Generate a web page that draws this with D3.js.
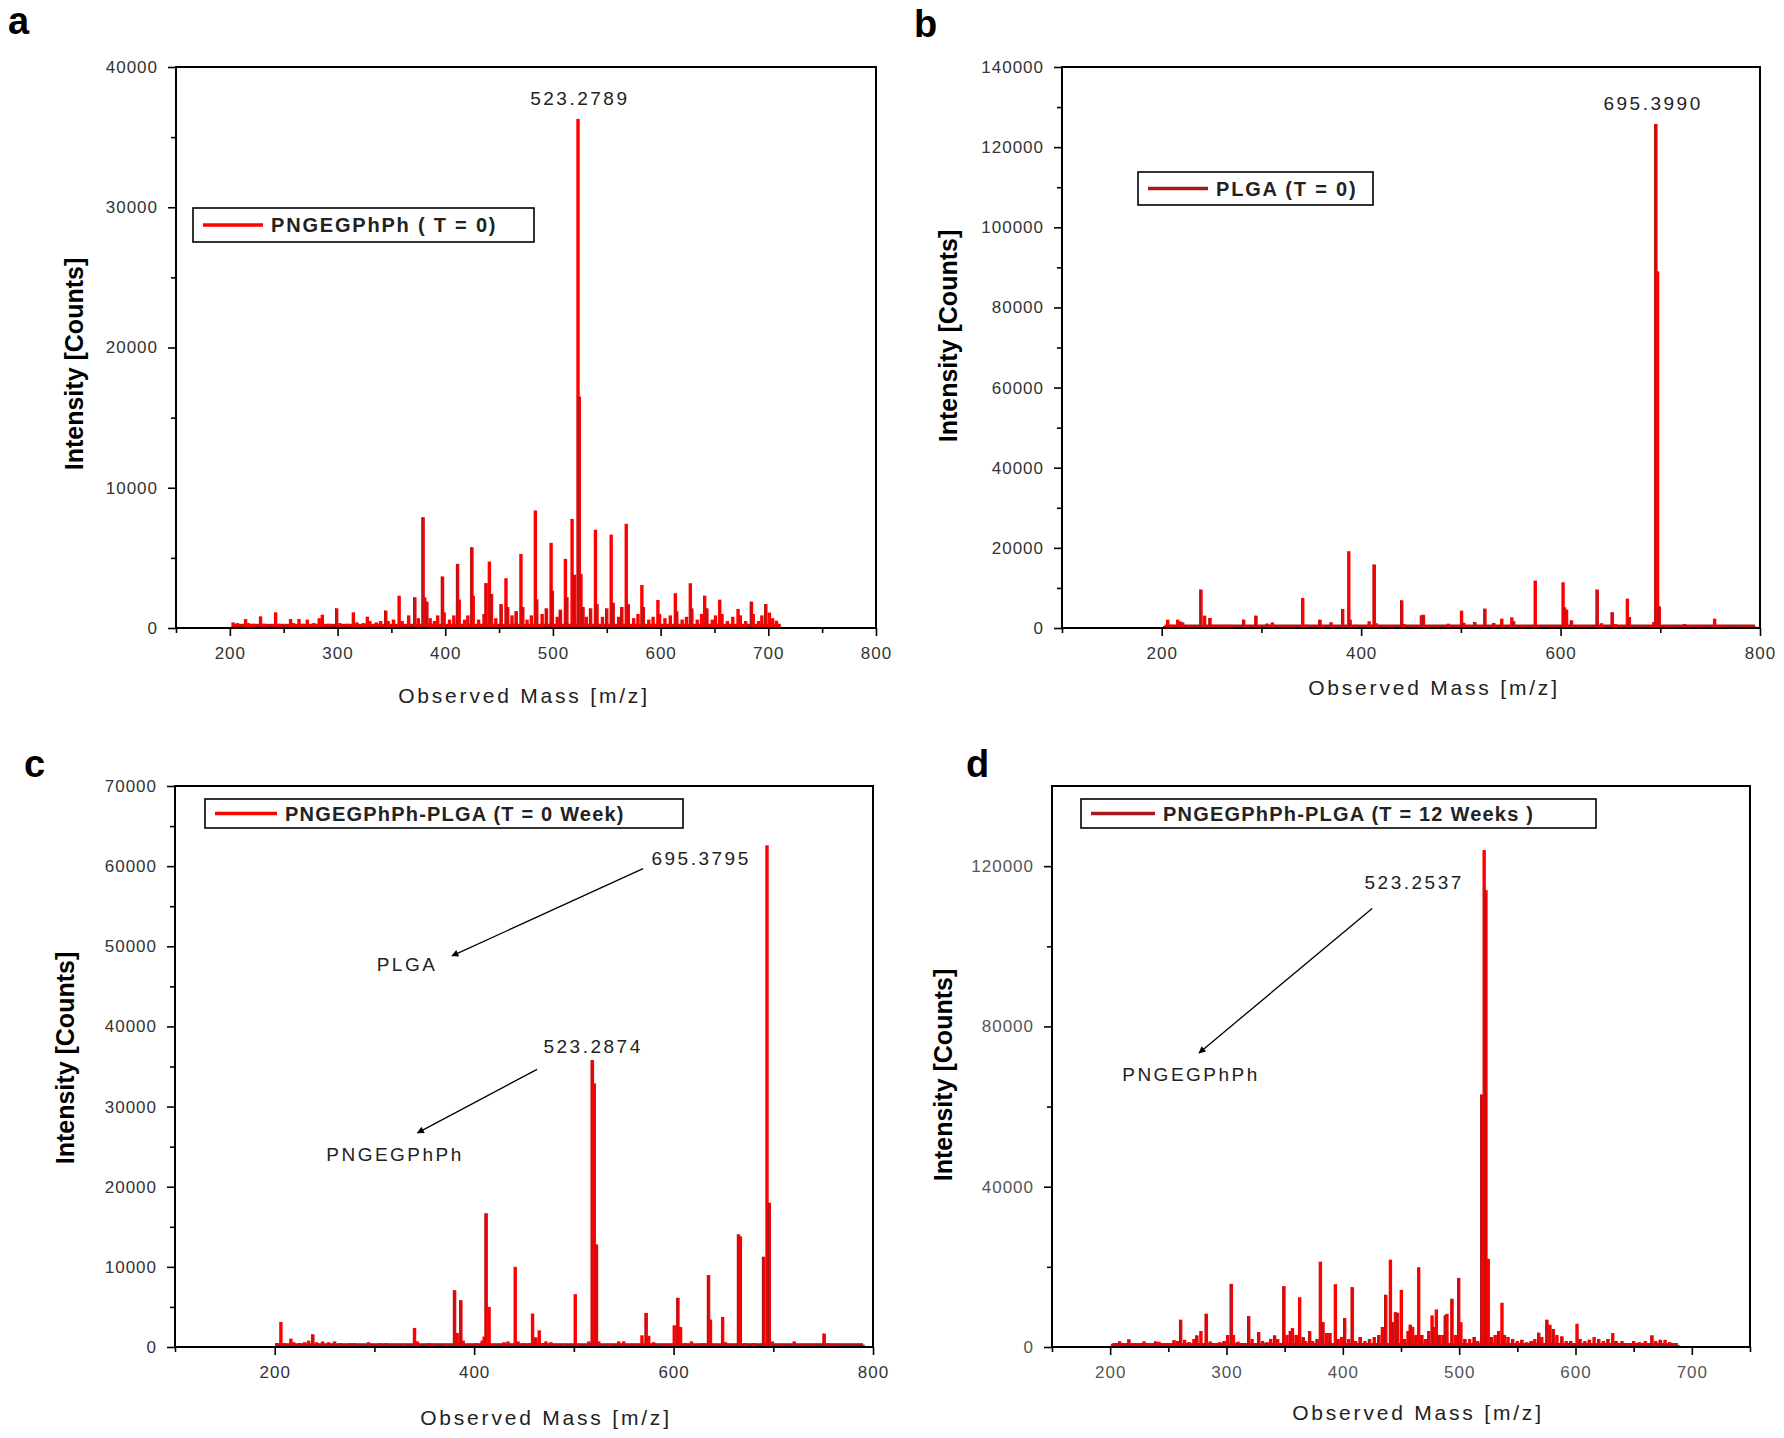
<!DOCTYPE html>
<html>
<head>
<meta charset="utf-8">
<script src="https://cdn.jsdelivr.net/npm/d3@7"></script>
<style>
  body { margin: 0; background: #fff; }
  text { font-family: "Liberation Sans", Arial, sans-serif; }
</style>
</head>
<body>
<svg id="chart" width="1784" height="1438"></svg>
<script>
// ---------------- DATA ----------------
// Panel a : PNGEGPhPh (T = 0)   [m/z, counts]
const peaksA = [[203,400],[207,350],[214.6,640],[217,350],[222,300],[228.5,830],[232,300],[242.5,1120],[246,300],[256.4,640],[259,350],[264.2,640],[268,300],[271.9,600],[278,350],[283,700],[285.9,950],[292,300],[299.2,1400],[302,350],[309,300],[314.7,1120],[318,400],[324,350],[327.7,810],[330,500],[336,400],[340,500],[344.8,1240],[347,500],[352,600],[357.2,2300],[360,500],[366,900],[371.8,2190],[375,700],[379.5,7900],[381,2190],[383,1880],[386,700],[390,500],[393,900],[397.5,3670],[399,1120],[404,600],[408,900],[411.5,4570],[413,2020],[418,600],[421,900],[424.8,5760],[426,2300],[431,600],[436,1000],[438,3200],[441,4740],[443,2430],[447,700],[452,1700],[456.4,3550],[458,1500],[462,900],[466,1200],[470.3,5280],[472,1500],[476,600],[480,900],[483.7,8380],[485,2040],[490,1000],[494,1400],[498.3,6070],[499.5,2660],[504,800],[507,1300],[511.6,4930],[513,2200],[517.8,7780],[520,3800],[523.3,36300],[524.5,16500],[526,3860],[528,1500],[531,800],[535,1400],[539.5,7000],[541,1700],[546,800],[550,1400],[554.1,6660],[556,1800],[561,800],[564,1500],[568.1,7430],[570,1700],[575,700],[579,1000],[582.6,3070],[584,1500],[589,600],[593,800],[597.5,2000],[599,1000],[604,700],[609,900],[613.7,2480],[615,1200],[620,600],[624,800],[627.6,3190],[629,1400],[634,600],[638,1000],[640.9,2310],[643,1400],[648,600],[651,900],[654.9,2020],[657,1000],[662,500],[667,800],[671.9,1360],[674,900],[679,500],[684.4,1880],[686,1000],[691,500],[694,900],[697.7,1710],[701,1100],[704,700],[707.6,520],[710,300]];

// Panel b : PLGA (T = 0)
const peaksB = [[203,500],[206,2080],[210,800],[216,2080],[219,1600],[221,1400],[226,600],[230,500],[239.4,9580],[243,3080],[248.5,2500],[252,800],[258,800],[263,800],[268,800],[273,600],[282.2,2080],[286,700],[294.6,3080],[298,700],[306,1100],[311,1400],[318,600],[325,500],[330,600],[341.4,7500],[345,800],[351,500],[358.8,2080],[362,600],[370,1400],[375,700],[381.5,4750],[387.6,19160],[389,2080],[395,800],[402,600],[408,1700],[413.2,15830],[415,1200],[425,600],[430,700],[440.7,6900],[443,1000],[452,600],[460.4,3170],[462.5,3300],[469,600],[476,700],[487.3,1080],[494,500],[500.7,4330],[503,1300],[509,600],[514,1500],[520,600],[524.2,4830],[530,600],[533,1250],[541,2330],[545,700],[551.1,2670],[553,1700],[561,600],[566,700],[574.6,11830],[577,700],[590,500],[596,700],[602.5,11400],[604,5160],[606,4580],[611,1900],[618,700],[623,700],[630,700],[636.8,9580],[641,1200],[651.9,3920],[655,1000],[661,500],[667,7330],[669,2750],[680,500],[690,500],[693.5,1500],[695.6,125800],[697.3,89000],[699,5400],[705,500],[712,400],[724.2,1000],[730,700],[736,600],[742,500],[754.5,2330],[758,600],[765,500],[780,400],[785,500],[795,400]];

// Panel c : PNGEGPhPh-PLGA (T = 0 Week)
const peaksC = [[202,500],[206.2,3130],[210,500],[216.2,1040],[219,600],[225,500],[230,600],[234,800],[238.3,1580],[242,600],[248,700],[254,600],[260,700],[266,500],[275,500],[280,500],[294,600],[305,500],[312,500],[320,400],[330,400],[340.2,2380],[343,700],[355,500],[360,400],[372,400],[380.4,7090],[383,1750],[386.7,5840],[389,800],[395,400],[402,500],[408,800],[410,1300],[412.1,16680],[415,5000],[420,400],[430,600],[434,700],[441.2,10000],[444,700],[450,500],[455,500],[458.6,4170],[462,1200],[465.3,2080],[469,500],[472,700],[477,600],[483,400],[490,400],[501.4,6590],[504,400],[515,700],[518.6,35800],[520.5,32900],[522.7,12800],[525,700],[535,400],[545,700],[550,700],[556,400],[563,400],[568.3,1460],[572.6,4250],[575,1400],[580,600],[590,400],[595,400],[600.7,2710],[604.4,6130],[607,2500],[612,500],[618,700],[625,400],[630,500],[635.1,8970],[637,3420],[642,400],[649.2,3750],[652,600],[660,400],[665.2,14050],[667,13800],[672,500],[680,500],[690.3,11260],[693.7,62600],[696,18000],[699,700],[708,400],[721,700],[730,400],[740,400],[751.1,1670],[755,500],[762,400],[775,300],[790,300]];

// Panel d : PNGEGPhPh-PLGA (T = 12 Weeks)
const peaksD = [[202,800],[205,1000],[208.2,1410],[212,1000],[216.2,1910],[220,1000],[225,1000],[229.1,1410],[233,900],[236,1000],[239.2,1410],[242,1300],[247,900],[251,1000],[255,1700],[258,1500],[260.6,6800],[264,1800],[268,1200],[272,2000],[274.6,2900],[278,4000],[282.7,8290],[286,1400],[290,1000],[294,1200],[298,1500],[301,3000],[304.2,15750],[306,3000],[310,1300],[314,900],[319.1,7710],[322,2000],[327.7,3730],[331,1500],[335,1200],[338,2000],[341.4,2900],[344,2000],[349.4,15170],[352,3000],[355,4000],[356.7,4730],[360,3000],[362.9,12430],[366,2500],[368,1500],[371.5,3980],[374,1500],[378,2000],[380.7,21300],[383,6200],[386,3500],[389,3500],[393.6,15670],[396,2000],[399,2500],[401.6,7210],[405,2000],[408.2,14920],[411,1500],[415,2500],[419,1500],[423,2000],[427,2500],[431,3000],[434,5000],[436.9,13020],[440.9,21800],[443,6200],[445.2,8700],[447,8540],[450.3,14260],[453,2000],[456,4000],[458.1,5550],[460,5000],[463,3000],[465.2,19900],[468,3000],[471,2000],[474,4000],[476.7,7880],[478,5000],[480.4,9370],[483,3000],[486,3000],[488.2,7880],[489.5,8290],[493.9,12020],[497,3000],[499.6,17240],[501.5,6200],[505,2000],[509,2000],[513,2500],[516,1500],[519.5,63000],[521.5,124000],[523,114000],[525,22000],[528,2500],[531,3000],[534,4000],[536.8,11030],[539,3000],[542,2500],[546,2000],[550,1500],[554,1800],[558,1200],[562,1500],[565,2000],[568.4,3570],[571,2500],[575.5,6800],[578,5550],[581,4500],[584,3000],[588.4,2650],[592,1500],[596,1500],[601.3,5800],[604,2000],[608,1500],[612,1800],[616,2500],[620,2000],[624,1500],[628,2000],[632,3480],[635,1500],[640,1500],[645,1000],[650,1500],[655,1200],[660,1500],[665.8,2900],[669,1500],[673,1800],[677,1800],[681,1200],[685,1000],[688,500]];

// Tick values
const xTicksA = [200,300,400,500,600,700,800];
const xMinorA = [150,250,350,450,550,650,750];
const yTicksA = [0,10000,20000,30000,40000];
const yMinorA = [5000,15000,25000,35000];

const xTicksB = [200,400,600,800];
const xMinorB = [100,300,500,700];
const yTicksB = [0,20000,40000,60000,80000,100000,120000,140000];
const yMinorB = [10000,30000,50000,70000,90000,110000,130000];

const xTicksC = [200,400,600,800];
const xMinorC = [100,300,500,700];
const yTicksC = [0,10000,20000,30000,40000,50000,60000,70000];
const yMinorC = [5000,15000,25000,35000,45000,55000,65000];

const xTicksD = [200,300,400,500,600,700];
const xMinorD = [150,250,350,450,550,650,750];
const yTicksD = [0,40000,80000,120000];
const yMinorD = [20000,60000,100000];

// Legends
const legendA = "PNGEGPhPh ( T = 0)";
const legendB = "PLGA (T = 0)";
const legendC = "PNGEGPhPh-PLGA (T = 0 Week)";
const legendD = "PNGEGPhPh-PLGA (T = 12 Weeks )";

// Annotations: [text, m/z, counts]
const notesA = [["523.2789", 525, 37800]];
const notesB = [["695.3990", 692.8, 131100]];
const notesC = [["695.3795", 627.6, 61050], ["PLGA", 332.7, 47800], ["523.2874", 519.3, 37580], ["PNGEGPhPh", 320.7, 24090]];
const notesD = [["523.2537", 461.3, 115920], ["PNGEGPhPh", 269.5, 68160]];
// Arrows: [from m/z, from counts, to m/z, to counts]
const arrowsC = [[569.4, 59680, 377.8, 48810], [463.1, 34640, 343.2, 26720]];
const arrowsD = [[425.2, 109450, 276.4, 73380]];

// ---------------- DRAW ----------------
const svg = d3.select("#chart");
svg.append("rect").attr("width", 1784).attr("height", 1438).attr("fill", "#fff");

const defs = svg.append("defs");
defs.append("marker").attr("id", "arr").attr("viewBox", "0 0 10 10")
  .attr("refX", 9).attr("refY", 5).attr("markerWidth", 9).attr("markerHeight", 7)
  .attr("markerUnits", "userSpaceOnUse").attr("orient", "auto")
  .append("path").attr("d", "M0,0 L10,5 L0,10 z").attr("fill", "#000");

const RED = "#ff0000", DARK = "#a8181e";

function panel(o) {
  const g = svg.append("g");
  const x = d3.scaleLinear().domain(o.xDomain).range([o.left, o.right]);
  const y = d3.scaleLinear().domain(o.yDomain).range([o.bottom, o.top]);

  // letter
  g.append("text").attr("x", o.letterX).attr("y", o.letterY)
    .attr("font-size", 38).attr("font-weight", "bold").attr("fill", "#000").text(o.letter);

  // baseline band
  const ext = d3.extent(o.peaks, d => d[0]);
  g.append("rect").attr("x", x(ext[0])).attr("width", x(ext[1]) - x(ext[0]))
    .attr("y", y(o.base)).attr("height", y(0) - y(o.base)).attr("fill", RED);
  g.append("line").attr("x1", x(ext[0])).attr("x2", x(ext[1]))
    .attr("y1", y(0) - 2).attr("y2", y(0) - 2).attr("stroke", DARK).attr("stroke-width", 3);

  // peaks
  g.selectAll("rect.pk").data(o.peaks).join("rect").attr("class", "pk")
    .attr("x", d => x(d[0]) - 1.7).attr("width", 3.4)
    .attr("y", d => y(d[1])).attr("height", d => y(0) - y(d[1])).attr("fill", RED);
  g.selectAll("line.pk").data(o.peaks.filter((d, i) => i % 2 === 0 && d[1] > 1000)).join("line").attr("class", "pk")
    .attr("x1", d => x(d[0]) - 0.9).attr("x2", d => x(d[0]) - 0.9)
    .attr("y1", d => y(d[1])).attr("y2", y(0)).attr("stroke", DARK).attr("stroke-width", 1.6);

  // axes
  const fmt = d3.format("d");
  const xa = g.append("g").attr("transform", `translate(0,${o.bottom})`)
    .call(d3.axisBottom(x).tickValues(o.xTicks).tickSize(8).tickPadding(11).tickFormat(fmt));
  const xm = g.append("g").attr("transform", `translate(0,${o.bottom})`)
    .call(d3.axisBottom(x).tickValues(o.xMinor).tickSize(5).tickFormat(""));
  const ya = g.append("g").attr("transform", `translate(${o.left},0)`)
    .call(d3.axisLeft(y).tickValues(o.yTicks).tickSize(8).tickPadding(10).tickFormat(fmt));
  const ym = g.append("g").attr("transform", `translate(${o.left},0)`)
    .call(d3.axisLeft(y).tickValues(o.yMinor).tickSize(5).tickFormat(""));
  [xa, xm, ya, ym].forEach(a => {
    a.select(".domain").remove();
    a.selectAll("line").attr("stroke", "#000").attr("stroke-width", 1.6);
    a.selectAll("text").attr("font-size", 17).attr("fill", o.tickColor || "#333")
      .attr("letter-spacing", 1).attr("font-family", "Liberation Sans, Arial, sans-serif");
  });

  // frame
  g.append("rect").attr("x", o.left).attr("y", o.top).attr("width", o.right - o.left)
    .attr("height", o.bottom - o.top).attr("fill", "none").attr("stroke", "#000").attr("stroke-width", 2);

  // titles
  g.append("text").attr("x", o.xTitleX).attr("y", o.xTitleY).attr("text-anchor", "middle")
    .attr("font-size", 21).attr("letter-spacing", 2.8).attr("fill", "#222").text("Observed Mass [m/z]");
  g.append("text").attr("transform", `translate(${o.yTitleX},${o.yTitleY}) rotate(-90)`)
    .attr("text-anchor", "middle").attr("font-size", 25).attr("font-weight", "bold")
    .attr("fill", "#000").text("Intensity [Counts]");

  // legend
  const lg = g.append("g");
  lg.append("rect").attr("x", o.legX).attr("y", o.legY).attr("width", o.legW).attr("height", o.legH)
    .attr("fill", "#fff").attr("stroke", "#000").attr("stroke-width", 1.6);
  lg.append("line").attr("x1", o.legX + 10).attr("x2", o.legX + 10 + o.legLine)
    .attr("y1", o.legY + o.legH / 2).attr("y2", o.legY + o.legH / 2)
    .attr("stroke", o.legColor).attr("stroke-width", 3.5);
  lg.append("text").attr("x", o.legX + 18 + o.legLine).attr("y", o.legY + o.legH / 2 + 7)
    .attr("font-size", 20).attr("font-weight", "bold").attr("letter-spacing", o.legSpacing)
    .attr("fill", "#222").text(o.legend);

  // notes
  g.selectAll("text.note").data(o.notes).join("text").attr("class", "note")
    .attr("x", d => x(d[1])).attr("y", d => y(d[2]) + 7).attr("text-anchor", "middle")
    .attr("font-size", 19).attr("letter-spacing", 2.5).attr("fill", "#222").text(d => d[0]);
  g.selectAll("line.arrow").data(o.arrows || []).join("line").attr("class", "arrow")
    .attr("x1", d => x(d[0])).attr("y1", d => y(d[1]))
    .attr("x2", d => x(d[2])).attr("y2", d => y(d[3]))
    .attr("stroke", "#000").attr("stroke-width", 1.3).attr("marker-end", "url(#arr)");
}

panel({ letter: "a", letterX: 8, letterY: 34, peaks: peaksA, base: 300,
  xDomain: [150, 800], yDomain: [0, 40000], left: 176, right: 876, top: 67, bottom: 628,
  xTicks: xTicksA, xMinor: xMinorA, yTicks: yTicksA, yMinor: yMinorA,
  xTitleX: 524, xTitleY: 703, yTitleX: 83, yTitleY: 364,
  legX: 193, legY: 208, legW: 341, legH: 34, legLine: 60, legColor: RED, legend: legendA, legSpacing: 1.8,
  notes: notesA });

panel({ letter: "b", letterX: 914, letterY: 37, peaks: peaksB, base: 700,
  xDomain: [100, 800], yDomain: [0, 140000], left: 1062, right: 1760, top: 67, bottom: 628,
  xTicks: xTicksB, xMinor: xMinorB, yTicks: yTicksB, yMinor: yMinorB,
  xTitleX: 1434, xTitleY: 695, yTitleX: 957, yTitleY: 336,
  legX: 1138, legY: 172, legW: 235, legH: 33, legLine: 60, legColor: DARK, legend: legendB, legSpacing: 1.8,
  notes: notesB });

panel({ letter: "c", letterX: 24, letterY: 777, peaks: peaksC, base: 450,
  xDomain: [100, 800], yDomain: [0, 70000], left: 175, right: 873, top: 786, bottom: 1347,
  xTicks: xTicksC, xMinor: xMinorC, yTicks: yTicksC, yMinor: yMinorC,
  xTitleX: 546, xTitleY: 1425, yTitleX: 74, yTitleY: 1058,
  legX: 205, legY: 799, legW: 478, legH: 29, legLine: 62, legColor: RED, legend: legendC, legSpacing: 1.2,
  notes: notesC, arrows: arrowsC });

panel({ letter: "d", letterX: 966, letterY: 777, peaks: peaksD, base: 1000,
  xDomain: [150, 750], yDomain: [0, 140000], left: 1052, right: 1750, top: 786, bottom: 1347,
  xTicks: xTicksD, xMinor: xMinorD, yTicks: yTicksD, yMinor: yMinorD, tickColor: "#555",
  xTitleX: 1418, xTitleY: 1420, yTitleX: 952, yTitleY: 1075,
  legX: 1081, legY: 799, legW: 515, legH: 29, legLine: 64, legColor: DARK, legend: legendD, legSpacing: 1.2,
  notes: notesD, arrows: arrowsD });
</script>
</body>
</html>
